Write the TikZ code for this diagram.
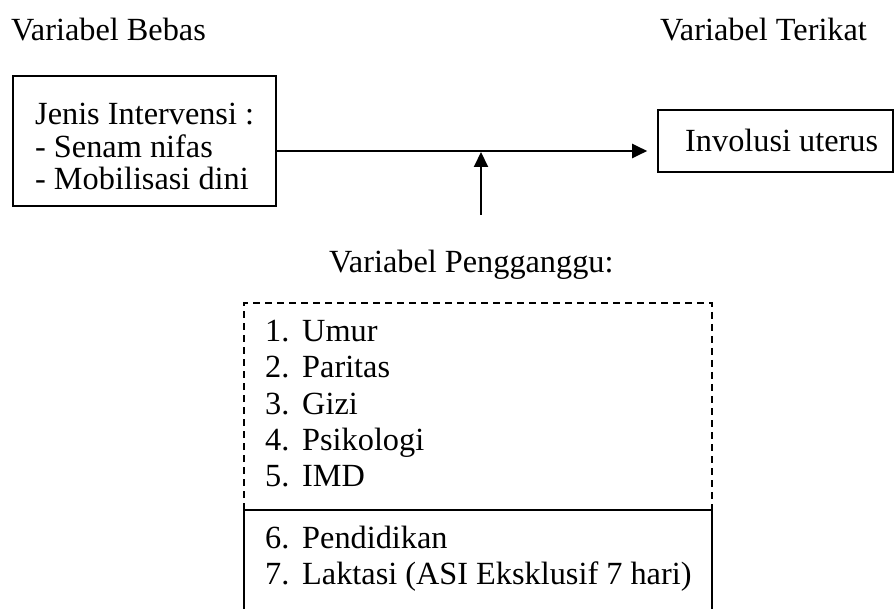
\documentclass[tikz,border=0pt]{standalone}
\usepackage{fontspec}
\setmainfont{Liberation Serif}
\usetikzlibrary{arrows.meta}
\begin{document}
\begin{tikzpicture}[x=1pt,y=-1pt,
  txt/.style={anchor=base west,inner sep=0pt,font=\fontsize{32.3}{34}\selectfont},
  boxline/.style={draw,line width=1.6pt},
  arr/.style={line width=2pt,-{Triangle[length=15pt,width=14pt]}},
  dashline/.style={line width=1.5pt,dash pattern=on 7pt off 5pt}]
\useasboundingbox (0,0) rectangle (894,609);
% titles
\node[txt] (tb) at (11,41) {Variabel Bebas};
\node[txt] (tt) at (660,41) {Variabel Terikat};
% left box
\node[boxline,line width=1.6pt,minimum width=263pt,minimum height=130pt,inner sep=0pt] (bebas) at (144.5,141) {};
\node[txt] (j1) at (35,125) {Jenis Intervensi :};
\node[txt] (j2) at (35,157.5) {- Senam nifas};
\node[txt] (j3) at (35,190) {- Mobilisasi dini};
% right box
\node[boxline,minimum width=235pt,minimum height=62pt,inner sep=0pt] (terikat) at (775.5,141) {};
\node[txt] (inv) at (685,152) {Involusi uterus};
% main arrow
\draw[arr,shorten >=10pt] ([yshift=-10pt]bebas.east) -- ([yshift=-10pt]terikat.west);
% confounder arrow
\coordinate (mb) at (481,215);
\coordinate (mt) at (481,152);
\draw[arr] (mb) -- (mt);
% confounder label
\node[txt] (pg) at (329,273) {Variabel Pengganggu:};
% confounder box
\coordinate (bl) at (244,510);
\coordinate (tl) at (244,303);
\coordinate (tr) at (712,303);
\coordinate (br) at (712,510);
\coordinate (bl2) at (244,612);
\coordinate (br2) at (712,612);
\draw[dashline] (bl) -- (tl) -- (tr) -- (br);
\draw[line width=1.6pt] (bl2) -- (bl) -- (br) -- (br2);
% list
\node[txt] (n1) at (265,341.5) {1.};  \node[txt] (t1) at (302,341.5) {Umur};
\node[txt] (n2) at (265,377.8) {2.};  \node[txt] (t2) at (302,377.8) {Paritas};
\node[txt] (n3) at (265,414.1) {3.};  \node[txt] (t3) at (302,414.1) {Gizi};
\node[txt] (n4) at (265,450.4) {4.};  \node[txt] (t4) at (302,450.4) {Psikologi};
\node[txt] (n5) at (265,486.7) {5.};  \node[txt] (t5) at (302,486.7) {IMD};
\node[txt] (n6) at (265,548) {6.};    \node[txt] (t6) at (302,548) {Pendidikan};
\node[txt] (n7) at (265,584) {7.};    \node[txt] (t7) at (302,584) {Laktasi (ASI Eksklusif 7 hari)};
\end{tikzpicture}
\end{document}
